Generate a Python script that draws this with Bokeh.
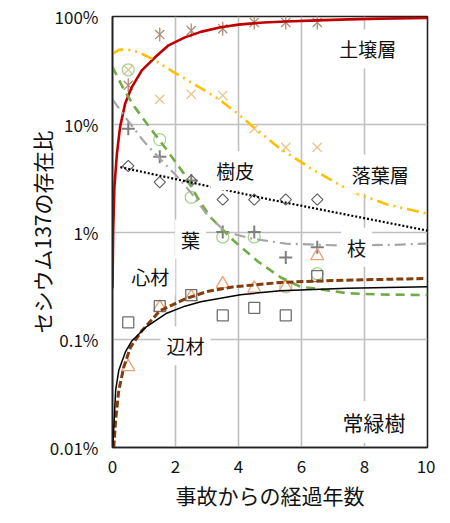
import math
from bokeh.plotting import figure
from bokeh.models import Range1d, FixedTicker, Label
from bokeh.embed import file_html
from bokeh.resources import INLINE

FONT = "Noto Sans CJK JP"

# ---- data (values in %) ----
years = [0.5, 1.5, 2.5, 3.5, 4.5, 5.5, 6.5]

soil_obs = [23, 68, 74, 77, 88, 88, 88]
litter_obs = [32, 17, 19, 18.5, 9.1, 6.1, 6.1]
leaf_obs = [32, 7.2, 2.1, 0.9, 0.9, 0.31, 0.41]
branch_obs = [9.1, 5.0, 3.0, 1.0, 1.0, 0.58, 0.72]
bark_obs = [4.1, 2.9, 3.0, 2.0, 2.0, 2.0, 2.0]
heart_obs = [0.056, 0.2, 0.25, 0.33, 0.30, 0.31, 0.6]
sap_obs = [0.145, 0.205, 0.26, 0.168, 0.198, 0.168, 0.39]

soil_fx = [0, 0.02, 0.06, 0.14, 0.24, 0.4, 0.61, 0.93, 1.36, 1.78, 2.3, 2.8, 3.4, 4.0, 4.8, 5.5, 6.5, 7.5, 8.5, 10]
soil_fy = [0.3, 0.96, 2.6, 5.3, 9.4, 15.5, 22, 31.6, 42, 54, 64, 72, 79, 84, 88, 90, 92, 94, 95.5, 97]

litter_fx = [0, 0.2, 0.45, 0.8, 1.3, 1.9, 2.48, 3.0, 3.43, 4.0, 4.48, 5.33, 6.29, 7.56, 8.72, 10]
litter_fy = [45, 49, 49.5, 47, 40, 31, 24.6, 20, 16.6, 12.4, 9.4, 5.9, 3.9, 2.4, 1.8, 1.48]

leaf_fx = [0, 0.36, 0.7, 1.0, 1.46, 1.72, 2.26, 2.69, 3.11, 3.5, 3.85, 4.59, 5.33, 5.97, 6.4, 7.45, 8.5, 10]
leaf_fy = [34, 21, 14.5, 11, 7.3, 5.8, 3.5, 2.1, 1.37, 1.05, 0.83, 0.54, 0.38, 0.31, 0.3, 0.27, 0.263, 0.26]

branch_fx = [0, 0.5, 1.0, 1.5, 2.0, 2.5, 3.0, 3.6, 4.4, 5.5, 7.2, 8.9, 10]
branch_fy = [17, 10.7, 6.9, 4.8, 3.4, 2.3, 1.45, 1.0, 0.87, 0.78, 0.75, 0.76, 0.78]

bark_fx = [0.25, 5.0, 10]
bark_fy = [4.0, 2.0, 1.03]

heart_fx = [0.04, 0.1, 0.2, 0.36, 0.57, 0.94, 1.5, 2.32, 3.0, 3.85, 5.33, 6.39, 8.0, 9.88]
heart_fy = [0.01, 0.018, 0.034, 0.056, 0.085, 0.122, 0.185, 0.24, 0.28, 0.31, 0.34, 0.35, 0.36, 0.37]

sap_fx = [0.01, 0.1, 0.2, 0.41, 0.62, 1.05, 1.7, 2.3, 2.8, 4.06, 5.33, 7.45, 10]
sap_fy = [0.01, 0.034, 0.052, 0.077, 0.098, 0.13, 0.175, 0.205, 0.225, 0.262, 0.285, 0.30, 0.31]

y_ticks = [0.01, 0.1, 1, 10, 100]
y_tick_labels = ["0.01%", "0.1%", "1%", "10%", "100%"]
x_ticks = [0, 2, 4, 6, 8, 10]

p = figure(frame_width=315, frame_height=431, output_backend="svg", toolbar_location=None,
           x_range=Range1d(0, 10), y_range=Range1d(0.01, 100), y_axis_type="log",
           min_border_left=112, min_border_right=8, min_border_top=16, min_border_bottom=70)
p.title.visible = False
p.background_fill_color = "white"
p.border_fill_color = "white"
p.outline_line_color = "#222222"
p.outline_line_width = 1.6

p.xaxis.ticker = FixedTicker(ticks=x_ticks)
p.yaxis.ticker = FixedTicker(ticks=y_ticks)
p.yaxis.major_label_overrides = {t: s for t, s in zip(y_ticks, y_tick_labels)}
for ax in (p.xaxis, p.yaxis):
    ax.major_tick_line_color = None
    ax.minor_tick_line_color = None
    ax.major_tick_out = 0
    ax.major_tick_in = 0
    ax.minor_tick_out = 0
    ax.minor_tick_in = 0
    ax.axis_line_color = "#222222"
    ax.axis_line_width = 1.6
    ax.major_label_text_font = FONT
    ax.major_label_text_font_size = "17px"
    ax.major_label_text_color = "#111111"
    ax.axis_label_text_font = FONT
    ax.axis_label_text_font_size = "21px"
    ax.axis_label_text_font_style = "normal"
    ax.axis_label_text_color = "#111111"
p.xaxis.axis_label = "事故からの経過年数"
p.yaxis.axis_label = "セシウム137の存在比"
p.xaxis.major_label_standoff = 12
p.yaxis.major_label_standoff = 14
p.xaxis.axis_label_standoff = 4
p.yaxis.axis_label_standoff = -10

p.xgrid.ticker = FixedTicker(ticks=x_ticks)
p.ygrid.ticker = FixedTicker(ticks=y_ticks)
for g in (p.xgrid, p.ygrid):
    g.grid_line_color = "#bfbfbf"
    g.grid_line_width = 1.6
p.ygrid.minor_grid_line_color = None

# observed markers
p.scatter(years, soil_obs, marker="x", size=13, line_color="#b08c74", line_width=1.3)
p.scatter(years, soil_obs, marker="dash", angle=math.pi / 2, size=14, line_color="#b08c74", line_width=1.3)
p.scatter(years, litter_obs, marker="x", size=13, line_color="#e2c68c", line_width=1.3)
p.scatter(years, leaf_obs, marker="circle", size=12, line_color="#a9d18e", fill_color=None, line_width=1.3)
p.scatter(years, branch_obs, marker="cross", size=13, line_color="#7f7f7f", line_width=2)
p.scatter(years, bark_obs, marker="square", angle=math.pi / 4, size=8, line_color="#595959", fill_color=None, line_width=1.1)
p.scatter(years, heart_obs, marker="triangle", size=13, line_color="#f0a070", fill_color=None, line_width=1.3)
p.scatter(years, sap_obs, marker="square", size=11, line_color="#6f6f6f", fill_color=None, line_width=1.3)

# model curves
p.line(soil_fx, soil_fy, line_color="#c00000", line_width=2.6)
p.line(litter_fx, litter_fy, line_color="#ffc000", line_width=2.6, line_dash="12 5 2 5 2 5")
p.line(leaf_fx, leaf_fy, line_color="#70ad47", line_width=2.6, line_dash="9 6")
p.line(branch_fx, branch_fy, line_color="#a6a6a6", line_width=2.2, line_dash="11 5 2 5")
p.line(bark_fx, bark_fy, line_color="#000000", line_width=2.2, line_dash="2 2")
p.line(heart_fx, heart_fy, line_color="#843c0c", line_width=3, line_dash="7 3")
p.line(sap_fx, sap_fy, line_color="#000000", line_width=1.5)

# text labels with white boxes
labels = [("土壌層", 8.1, 50, 19), ("落葉層", 8.5, 3.45, 19), ("枝", 7.75, 0.72, 19),
          ("樹皮", 3.9, 3.7, 19), ("葉", 2.48, 0.86, 19), ("心材", 1.2, 0.39, 19),
          ("辺材", 2.32, 0.088, 19), ("常緑樹", 8.3, 0.0172, 21)]
for txt, lx, ly, fs in labels:
    p.add_layout(Label(x=lx, y=ly, text=txt, text_align="center", text_baseline="middle",
                       text_font=FONT, text_font_size=f"{fs}px", text_color="#111111",
                       background_fill_color="white", padding=6))

open("out.html", "w").write(file_html(p, INLINE))
